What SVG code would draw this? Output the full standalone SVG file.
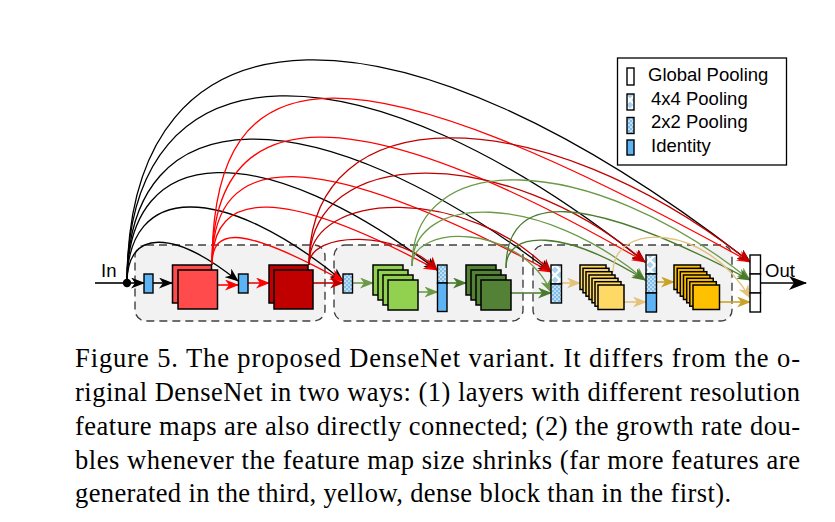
<svg xmlns="http://www.w3.org/2000/svg" width="835" height="522" viewBox="0 0 835 522">
<style>
.arc{fill:none;stroke-width:1.3}
.dir{fill:none;stroke-width:1.6}
.sq{stroke:#000;stroke-width:1.5}
.col{stroke:#000;stroke-width:1.4}
.box{fill:#f2f2f2;stroke:#404040;stroke-width:1.4;stroke-dasharray:8 5}
.lbl{font-family:"Liberation Sans",Arial,sans-serif;font-size:18.5px;fill:#000}
.cap{font-family:"Liberation Serif","Times New Roman",serif;font-size:26.5px;fill:#000}
</style>
<defs>
<pattern id="p2" width="4" height="4" patternUnits="userSpaceOnUse"><rect width="4" height="4" fill="#7fbde8"/><circle cx="1" cy="1" r="0.85" fill="#fff"/><circle cx="3" cy="3" r="0.85" fill="#fff"/></pattern>
<pattern id="p4" width="10" height="10" patternUnits="userSpaceOnUse"><rect width="10" height="10" fill="#a9d2ee"/><path d="M0,0 L10,10 M10,0 L0,10" stroke="#fff" stroke-width="2.2"/></pattern>
<marker id="mk" markerUnits="userSpaceOnUse" markerWidth="14" markerHeight="11" viewBox="0 0 14 11" refX="13" refY="5.5" orient="auto"><path d="M0,0 L14,5.5 L0,11 L4,5.5 Z" fill="#000"/></marker>
<marker id="mr" markerUnits="userSpaceOnUse" markerWidth="14" markerHeight="11" viewBox="0 0 14 11" refX="13" refY="5.5" orient="auto"><path d="M0,0 L14,5.5 L0,11 L4,5.5 Z" fill="#ff0000"/></marker>
<marker id="md" markerUnits="userSpaceOnUse" markerWidth="14" markerHeight="11" viewBox="0 0 14 11" refX="13" refY="5.5" orient="auto"><path d="M0,0 L14,5.5 L0,11 L4,5.5 Z" fill="#c00000"/></marker>
<marker id="mg" markerUnits="userSpaceOnUse" markerWidth="14" markerHeight="11" viewBox="0 0 14 11" refX="13" refY="5.5" orient="auto"><path d="M0,0 L14,5.5 L0,11 L4,5.5 Z" fill="#6a9a48"/></marker>
<marker id="mG" markerUnits="userSpaceOnUse" markerWidth="14" markerHeight="11" viewBox="0 0 14 11" refX="13" refY="5.5" orient="auto"><path d="M0,0 L14,5.5 L0,11 L4,5.5 Z" fill="#4a7a2e"/></marker>
<marker id="my" markerUnits="userSpaceOnUse" markerWidth="14" markerHeight="11" viewBox="0 0 14 11" refX="13" refY="5.5" orient="auto"><path d="M0,0 L14,5.5 L0,11 L4,5.5 Z" fill="#e3c27c"/></marker>
<marker id="mY" markerUnits="userSpaceOnUse" markerWidth="14" markerHeight="11" viewBox="0 0 14 11" refX="13" refY="5.5" orient="auto"><path d="M0,0 L14,5.5 L0,11 L4,5.5 Z" fill="#c9a227"/></marker>
<marker id="mo" markerUnits="userSpaceOnUse" markerWidth="18" markerHeight="14" viewBox="0 0 18 14" refX="17" refY="7" orient="auto"><path d="M0,0 L18,7 L0,14 L5,7 Z" fill="#000"/></marker>
</defs>
<rect width="835" height="522" fill="#fff"/>

<g id="block1"><rect class="box" x="135" y="245" width="190" height="76" rx="11"/></g>
<g id="block2"><rect class="box" x="334" y="245" width="189" height="76" rx="11"/></g>
<g id="block3"><rect class="box" x="533" y="245" width="199" height="76" rx="11"/></g>

<g id="connectors">
<path class="arc" stroke="#000" marker-end="url(#mk)" d="M127,283 C127,-11 399,-11 750,262"/>
<path class="arc" stroke="#000" marker-end="url(#mk)" d="M127,283 C127,37 362,37 645,262"/>
<path class="arc" stroke="#000" marker-end="url(#mk)" d="M127,283 C127,93 314,93 551,272"/>
<path class="arc" stroke="#000" marker-end="url(#mk)" d="M127,283 C127,138 264,138 437,270"/>
<path class="arc" stroke="#000" marker-end="url(#mk)" d="M127,283 C127,182 223,182 343,281"/>
<path class="arc" stroke="#000" marker-end="url(#mk)" d="M127,283 C127,229 173,229 238,281"/>
<path class="arc" stroke="#ff0000" marker-end="url(#mr)" d="M212,265 C212,43 355,43 750,262"/>
<path class="arc" stroke="#ff0000" marker-end="url(#mr)" d="M212,265 C212,95 356,95 645,262"/>
<path class="arc" stroke="#ff0000" marker-end="url(#mr)" d="M212,265 C212,146 315,146 551,272"/>
<path class="arc" stroke="#ff0000" marker-end="url(#mr)" d="M212,265 C212,187 284,187 437,270"/>
<path class="arc" stroke="#ff0000" marker-end="url(#mr)" d="M212,265 C212,226 243,226 343,281"/>
<path class="arc" stroke="#c00000" marker-end="url(#md)" d="M309,265 C309,96 538,96 750,262"/>
<path class="arc" stroke="#c00000" marker-end="url(#md)" d="M309,265 C309,143 506,143 645,262"/>
<path class="arc" stroke="#c00000" marker-end="url(#md)" d="M309,265 C309,187 471,187 551,272"/>
<path class="arc" stroke="#c00000" marker-end="url(#md)" d="M309,265 C309,230 402,230 437,270"/>
<path class="arc" stroke="#6a9a48" marker-end="url(#mg)" d="M412,266 C412,149 587,149 750,280"/>
<path class="arc" stroke="#6a9a48" marker-end="url(#mg)" d="M412,266 C412,192 542,192 645,280"/>
<path class="arc" stroke="#6a9a48" marker-end="url(#mg)" d="M412,266 C412,223 520,223 551,292"/>
<path class="arc" stroke="#4a7a2e" marker-end="url(#mG)" d="M506,268 C506,191 582,191 750,280"/>
<path class="arc" stroke="#4a7a2e" marker-end="url(#mG)" d="M506,268 C506,229 564,229 645,280"/>
<path class="arc" stroke="#e3c27c" marker-end="url(#my)" d="M613,272 C613,222 706,222 750,298"/>
<path class="dir" stroke="#000" stroke-width="2" d="M95,283 L127,283"/>
<path class="dir" stroke="#000" marker-end="url(#mk)" d="M127,283 L144,283"/>
<path class="dir" stroke="#000" marker-end="url(#mk)" d="M153,283 L172,283"/>
<path class="dir" stroke="#ff0000" marker-end="url(#mr)" d="M218,285 L238,285"/>
<path class="dir" stroke="#e01010" marker-end="url(#mr)" d="M248,283 L269,283"/>
<path class="dir" stroke="#c00000" marker-end="url(#md)" d="M313,283 L343,283"/>
<path class="dir" stroke="#6a9a48" marker-end="url(#mg)" d="M353,283 L373,283"/>
<path class="dir" stroke="#6a9a48" marker-end="url(#mg)" d="M418,292 L437.5,292"/>
<path class="dir" stroke="#4a7a2e" marker-end="url(#mG)" d="M447,283 L466,283"/>
<path class="dir" stroke="#4a7a2e" marker-end="url(#mG)" d="M511,293 L551,293"/>
<path class="dir" stroke="#e3c27c" marker-end="url(#my)" d="M562,283 L580,283"/>
<path class="dir" stroke="#e3c27c" marker-end="url(#my)" d="M624,302 L646,302"/>
<path class="dir" stroke="#c9a227" marker-end="url(#mY)" d="M656,282 L674,282"/>
<path class="dir" stroke="#c9a227" marker-end="url(#mY)" d="M720,302 L750,302"/>
<path class="dir" stroke="#000" stroke-width="2.5" marker-end="url(#mo)" d="M760,283 L806,283"/>
</g>

<g id="input"><circle cx="127" cy="283" r="4.2" fill="#000"/><text class="lbl" x="101" y="277">In</text></g>
<g id="identity1"><rect class="col" x="144" y="274" width="9" height="19" fill="#5cb4f5"/></g>
<g id="layer1"><rect class="sq" x="172.5" y="265" width="39" height="38" fill="#ff4b4b"/><rect class="sq" x="178" y="270" width="39.5" height="39" fill="#ff4b4b"/></g>
<g id="identity2"><rect class="col" x="238.5" y="274" width="9.5" height="19" fill="#5cb4f5"/></g>
<g id="layer2"><rect class="sq" x="269" y="265" width="39" height="38" fill="#c00000"/><rect class="sq" x="274" y="270" width="39" height="39" fill="#c00000"/></g>
<g id="pool1"><rect class="col" x="343" y="274" width="9.5" height="19" fill="url(#p2)"/></g>
<g id="layer3">
<rect class="sq" x="373" y="265" width="30" height="30" fill="#92d050"/>
<rect class="sq" x="378" y="270" width="30" height="30" fill="#92d050"/>
<rect class="sq" x="383" y="275" width="30" height="30" fill="#92d050"/>
<rect class="sq" x="388" y="280" width="30" height="30" fill="#92d050"/>
</g>
<g id="mix1"><rect class="col" x="437.5" y="265" width="9.5" height="18" fill="url(#p2)"/><rect class="col" x="437.5" y="283" width="9.5" height="28.5" fill="#5cb4f5"/></g>
<g id="layer4">
<rect class="sq" x="466" y="265" width="30" height="30" fill="#538135"/>
<rect class="sq" x="471" y="270" width="30" height="30" fill="#538135"/>
<rect class="sq" x="476" y="275" width="30" height="30" fill="#538135"/>
<rect class="sq" x="481" y="280" width="30" height="30" fill="#538135"/>
</g>
<g id="mix2"><rect class="col" x="551" y="265" width="10.5" height="19" fill="url(#p4)"/><rect class="col" x="551" y="284" width="10.5" height="19" fill="url(#p2)"/></g>
<g id="layer5">
<rect class="sq" x="580" y="265" width="26" height="24.5" fill="#ffd966"/>
<rect class="sq" x="583" y="268.3" width="26" height="24.5" fill="#ffd966"/>
<rect class="sq" x="586" y="271.7" width="26" height="24.5" fill="#ffd966"/>
<rect class="sq" x="589" y="275" width="26" height="24.5" fill="#ffd966"/>
<rect class="sq" x="592" y="278.3" width="26" height="24.5" fill="#ffd966"/>
<rect class="sq" x="595" y="281.7" width="26" height="24.5" fill="#ffd966"/>
<rect class="sq" x="598" y="285" width="26" height="24.5" fill="#ffd966"/>
</g>
<g id="mix3"><rect class="col" x="646" y="255" width="10.5" height="19" fill="url(#p4)"/><rect class="col" x="646" y="274" width="10.5" height="19" fill="url(#p2)"/><rect class="col" x="646" y="293" width="10.5" height="19" fill="#5cb4f5"/></g>
<g id="layer6">
<rect class="sq" x="674" y="265" width="26.5" height="24.5" fill="#ffc000"/>
<rect class="sq" x="677.2" y="268.3" width="26.5" height="24.5" fill="#ffc000"/>
<rect class="sq" x="680.3" y="271.7" width="26.5" height="24.5" fill="#ffc000"/>
<rect class="sq" x="683.5" y="275" width="26.5" height="24.5" fill="#ffc000"/>
<rect class="sq" x="686.7" y="278.3" width="26.5" height="24.5" fill="#ffc000"/>
<rect class="sq" x="689.8" y="281.7" width="26.5" height="24.5" fill="#ffc000"/>
<rect class="sq" x="693" y="285" width="26.5" height="24.5" fill="#ffc000"/>
</g>
<g id="output"><rect class="col" x="750" y="255" width="10.5" height="19" fill="#fff"/><rect class="col" x="750" y="274" width="10.5" height="19" fill="#fff"/><rect class="col" x="750" y="293" width="10.5" height="19" fill="#fff"/><text class="lbl" x="765" y="277">Out</text></g>

<g id="legend">
<rect x="617.5" y="58" width="169" height="107" fill="#fff" stroke="#000" stroke-width="1.3"/>
<rect class="col" x="627" y="68" width="7" height="17" fill="#fff"/>
<text class="lbl" x="648" y="81">Global Pooling</text>
<rect class="col" x="627" y="94" width="7" height="16" fill="url(#p4)"/>
<text class="lbl" x="651" y="104.5">4x4 Pooling</text>
<rect class="col" x="627" y="117.5" width="7" height="16" fill="url(#p2)"/>
<text class="lbl" x="651" y="128">2x2 Pooling</text>
<rect class="col" x="627" y="140" width="7" height="15" fill="#5cb4f5"/>
<text class="lbl" x="651" y="152">Identity</text>
</g>

<g id="caption">
<text class="cap" x="75" y="367" textLength="725" lengthAdjust="spacing">Figure 5. The proposed DenseNet variant.  It differs from the o-</text>
<text class="cap" x="75" y="401" textLength="725" lengthAdjust="spacing">riginal DenseNet in two ways: (1) layers with different resolution</text>
<text class="cap" x="75" y="435" textLength="725" lengthAdjust="spacing">feature maps are also directly connected; (2) the growth rate dou-</text>
<text class="cap" x="75" y="468.5" textLength="725" lengthAdjust="spacing">bles whenever the feature map size shrinks (far more features are</text>
<text class="cap" x="75" y="502" textLength="656" lengthAdjust="spacing">generated in the third, yellow, dense block than in the first).</text>
</g>
</svg>
